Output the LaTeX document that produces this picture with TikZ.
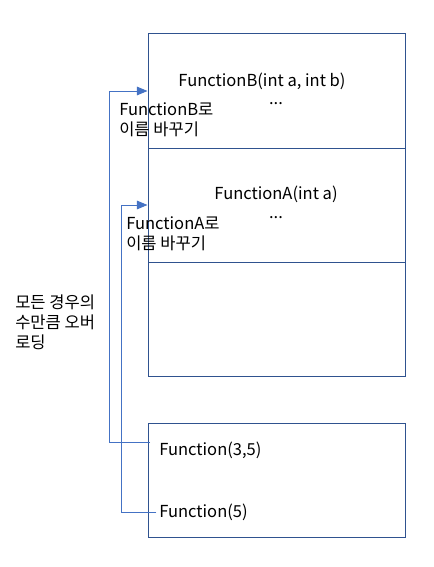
\documentclass[tikz,border=0pt]{standalone}
\usepackage{fontspec}
\setmainfont{Noto Sans CJK KR}
\usetikzlibrary{arrows.meta, positioning, calc}
\definecolor{boxblue}{HTML}{2F528F}
\definecolor{arrblue}{HTML}{4472C4}

\begin{document}
\begin{tikzpicture}[
    x=0.75pt, y=-0.75pt,
    every node/.style={font=\fontsize{12.4}{15}\selectfont},
    sect/.style={draw=boxblue, line width=0.75pt, minimum width=257*0.75pt, minimum height=114*0.75pt, inner sep=0pt},
    lbl/.style={anchor=west, align=left, inner sep=0pt},
    arr/.style={-{Triangle[length=8pt, width=6.5pt]}, draw=arrblue, line width=0.75pt}
]
\useasboundingbox (0,0) rectangle (434,567);

% the three parts of the big box
\node[sect] (secB) at (276.5,91) {};
\node[sect] (secA) at (276.5,205) {};
\node[sect] (secE) at (276.5,319) {};
% the box of calls
\node[sect] (calls) at (276.5,480) {};

\node[inner sep=0pt] (fnB) at (262,81) {FunctionB(int a, int b)};
\node[inner sep=0pt] (dotB) at (276,104) {...};
\node[inner sep=0pt] (fnA) at (276,194) {FunctionA(int a)};
\node[inner sep=0pt] (dotA) at (276,218) {...};

\node[lbl] (renB) at (119,120) {FunctionB로\\이름 바꾸기};
\node[lbl] (renA) at (126,234) {FunctionA로\\이름 바꾸기};
\node[lbl] (note) at (15,322) {모든 경우의\\수만큼 오버\\로딩};

\node[lbl] (c35) at (159,450) {Function(3,5)};
\node[lbl] (c5) at (159,512) {Function(5)};

\draw[arr] ([shift={(-9,-8)}]c35.west) -- ++(-41,0) |- (secB.west);
\draw[arr] ([xshift=-2]c5.west) -- ++(-35,0) |- (secA.west);
\end{tikzpicture}
\end{document}
